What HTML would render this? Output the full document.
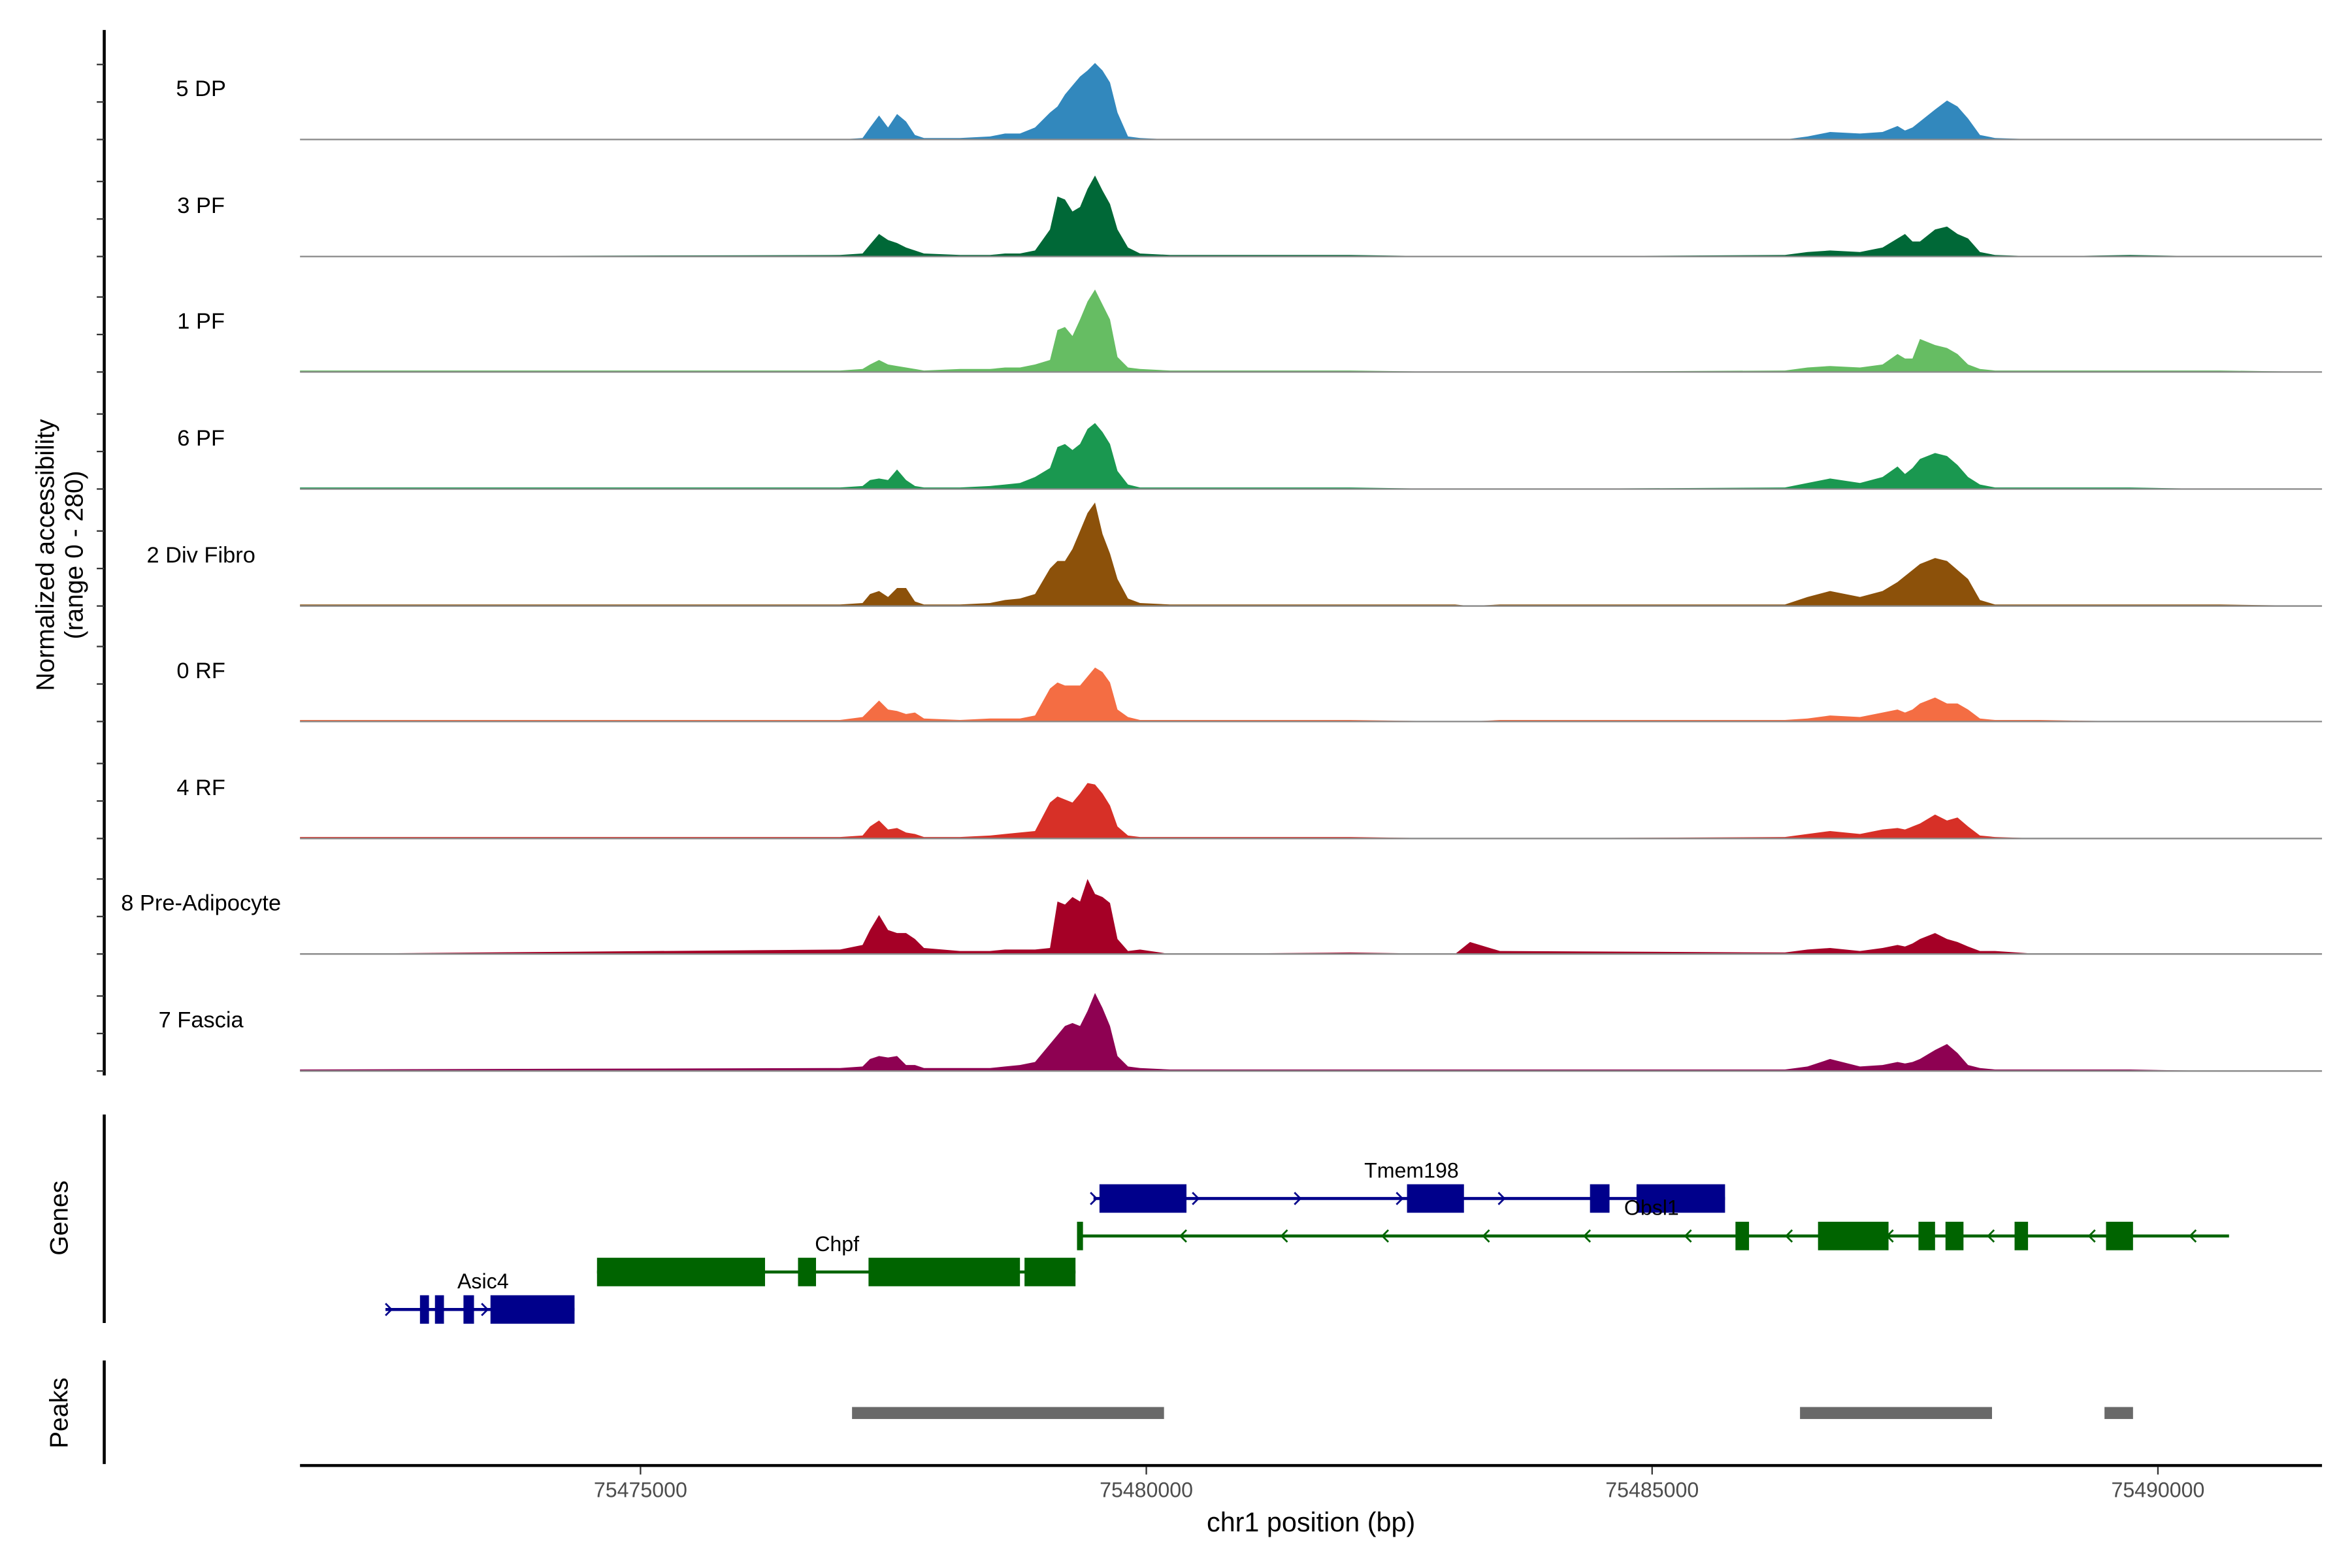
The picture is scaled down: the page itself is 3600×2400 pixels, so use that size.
<!DOCTYPE html>
<html><head><meta charset="utf-8">
<style>
html,body{margin:0;padding:0;background:#fff;}
svg{display:block;font-family:"Liberation Sans",Arial,sans-serif;}
</style></head>
<body>
<svg id="chart" width="3600" height="2400" viewBox="0 0 1568 1045.33" xmlns="http://www.w3.org/2000/svg">
<rect width="1568" height="1046" fill="#fff"/>
<g id="tracks"></g>
<g id="axes"></g>
<g id="genes"></g>
<g id="peaks"></g>
<text transform="translate(36,370) rotate(-90)" text-anchor="middle" font-size="17" fill="#000">Normalized accessibility</text>
<text transform="translate(55,370) rotate(-90)" text-anchor="middle" font-size="17" fill="#000">(range 0 - 280)</text>
<text transform="translate(45,812) rotate(-90)" text-anchor="middle" font-size="17" fill="#000">Genes</text>
<text transform="translate(45,942) rotate(-90)" text-anchor="middle" font-size="17" fill="#000">Peaks</text>
<text x="874" y="1021" text-anchor="middle" font-size="18" fill="#000">chr1 position (bp)</text>
</svg>
<script>
// ---- data ----
const positions = [75471634,75476972,75477195,75477269,75477358,75477447,75477536,75477625,75477713,75477802,75478158,75478455,75478603,75478751,75478900,75479048,75479122,75479196,75479270,75479345,75479419,75479493,75479567,75479641,75479715,75479819,75479938,75480234,75482014,75483052,75483200,75483496,75486313,75486536,75486759,75487055,75487278,75487426,75487500,75487574,75487648,75487797,75487915,75488019,75488123,75488241,75488390,75488834,75489724,75490614,75491622];
const trackNames = ["5 DP","3 PF","1 PF","6 PF","2 Div Fibro","0 RF","4 RF","8 Pre-Adipocyte","7 Fascia"];
const trackColors = ["#3288BD","#006837","#66BD63","#1A9850","#8C510A","#F46D43","#D73027","#A50026","#8E0152"];
const cov5DP = [0,0,1,8,16,8,17,12,3,1,1,2,4,4,8,18,22,30,36,42,46,51,46,38,18,2,1,0,0,0,0,0,0,2,5,4,5,9,6,8,12,20,26,22,14,3,1,0,0,0,0];
const cov3PF = [0,1,2,8,15,11,9,6,4,2,1,1,2,2,4,18,40,38,30,33,45,54,44,35,18,6,2,1,1,0,0,0,1,3,4,3,6,12,15,10,10,18,20,15,12,3,1,0,1,0,0];
const cov1PF = [1,1,2,5,8,5,4,3,2,1,2,2,3,3,5,8,28,30,24,35,47,55,45,35,10,3,2,1,1,0,0,0,1,3,4,3,5,12,9,9,22,18,16,12,5,2,1,1,1,1,0];
const cov6PF = [1,1,2,6,7,6,13,6,2,1,1,2,3,4,8,14,28,30,26,30,40,44,38,30,12,3,1,1,1,0,0,0,1,4,7,4,8,15,10,14,20,24,22,16,8,3,1,1,1,0,0];
const cov2DF = [1,1,2,8,10,6,12,12,3,1,1,2,4,5,8,25,30,30,38,50,62,69,48,35,18,5,2,1,1,1,0,1,1,6,10,6,10,16,20,24,28,32,30,24,18,4,1,1,1,1,0];
const cov0RF = [1,1,3,8,14,8,7,5,6,2,1,2,2,2,4,22,26,24,24,24,30,36,33,26,8,3,1,1,1,0,0,1,1,2,4,3,6,8,6,8,12,16,12,12,8,2,1,1,0,0,0];
const cov4RF = [1,1,2,8,12,6,7,4,3,1,1,2,3,4,5,24,28,26,24,30,37,36,30,22,8,2,1,1,1,0,0,0,1,3,5,3,6,7,6,8,10,16,12,14,8,2,1,0,0,0,0];
const cov8PA = [0,3,6,16,26,16,14,14,10,4,2,2,3,3,3,4,35,33,38,35,50,40,38,34,10,2,3,0,1,0,8,2,1,3,4,2,4,6,5,7,10,14,10,8,5,2,2,0,0,0,0];
const cov7FA = [1,2,3,8,10,9,10,4,4,2,2,2,3,4,6,18,24,30,32,30,40,52,42,30,10,3,2,1,1,1,1,1,1,3,8,3,4,6,5,6,8,14,18,12,4,2,1,1,1,0,0];
const coverage = [cov5DP,cov3PF,cov1PF,cov6PF,cov2DF,cov0RF,cov4RF,cov8PA,cov7FA];
const xTicks = [75475000,75480000,75485000,75490000];
// genes: [start, end] in bp
const tmemExons = [[75479537,75480397],[75482577,75483140],[75484386,75484579],[75484846,75485721]];
const obslExons = [[75479315,75479374],[75485824,75485958],[75486640,75487337],[75487633,75487797],[75487900,75488078],[75488583,75488716],[75489487,75489754]];
const chpfExons = [[75474570,75476231],[75476557,75476735],[75477254,75478751],[75478796,75479300]];
const asicExons = [[75472820,75472909],[75472968,75473057],[75473250,75473354],[75473517,75474348]];
const peakRanges = [[75477091,75480175],[75486462,75488360],[75489472,75489754]];

// ---- scales ----
const X0 = 200, X1 = 1548, D0 = 75471634, D1 = 75491622;
function xs(bp){ return X0 + (bp - D0) * (X1 - X0) / (D1 - D0); }
const baselines = [93,171,248,326,404,481,559,636,714];
const trackH = 77.6, yMaxVal = 77.6;
function ys(v, i){ return baselines[i] - v / yMaxVal * trackH; }
const NS = "http://www.w3.org/2000/svg";
function mk(tag, parent){ const e = document.createElementNS(NS, tag); parent.appendChild(e); return e; }

// ---- coverage tracks ----
const tg = document.getElementById('tracks');
coverage.forEach((vals, i) => {
  const g = mk('g', tg);
  
  
  let d = 'M' + xs(positions[0]) + ',' + baselines[i];
  positions.forEach((p, k) => { d += 'L' + xs(p).toFixed(2) + ',' + ys(vals[k], i).toFixed(2); });
  d += 'L' + xs(positions[positions.length-1]) + ',' + baselines[i] + 'Z';
  const a = mk('path', g);
  a.setAttribute('d', d); a.setAttribute('fill', trackColors[i]);
  
  
  const bl = mk('line', g);
  bl.setAttribute('x1', X0); bl.setAttribute('x2', X1);
  bl.setAttribute('y1', baselines[i]); bl.setAttribute('y2', baselines[i]);
  bl.setAttribute('stroke', '#888'); bl.setAttribute('stroke-width', '1');
  
  
  const t = mk('text', g);
  t.setAttribute('x', 134); t.setAttribute('y', baselines[i] - 29);
  t.setAttribute('text-anchor', 'middle'); t.setAttribute('font-size', '15'); t.setAttribute('fill', '#000');
  t.textContent = trackNames[i];
  
  
});

// ---- axes ----
const ag = document.getElementById('axes');
function line(p, x1, y1, x2, y2, c, w, name){
  const l = mk('line', p);
  l.setAttribute('x1', x1); l.setAttribute('y1', y1); l.setAttribute('x2', x2); l.setAttribute('y2', y2);
  l.setAttribute('stroke', c); l.setAttribute('stroke-width', w);
  
  
  return l;
}
line(ag, 69.5, 20, 69.5, 717, '#000', 2, 'y-axis-line');
baselines.forEach(b => { [0,25,50].forEach(o => line(ag, 64.5, b - o, 69.5, b - o, '#333', 1, 'y-axis-tick')); });
line(ag, 69.5, 743, 69.5, 882, '#000', 2, 'genes-axis-line');
line(ag, 69.5, 907, 69.5, 976, '#000', 2, 'peaks-axis-line');
line(ag, X0, 977, X1, 977, '#000', 2, 'x-axis-line');
xTicks.forEach(t => {
  line(ag, xs(t), 978, xs(t), 983, '#333', 1, 'x-axis-tick');
  const tx = mk('text', ag);
  tx.setAttribute('x', xs(t)); tx.setAttribute('y', 998);
  tx.setAttribute('text-anchor', 'middle'); tx.setAttribute('font-size', '14'); tx.setAttribute('fill', '#4d4d4d');
  tx.textContent = String(t);
  
  
});

// ---- genes ----
const gg = document.getElementById('genes');
function gene(name, color, yc, lineStart, lineEnd, exons, dir, arrowStart, arrowStep, label, lx, ly){
  const g = mk('g', gg);
  
  
  line(g, xs(lineStart), yc, xs(lineEnd), yc, color, 2, 'gene-intron');
  for (let p = arrowStart; p < lineEnd; p += arrowStep) {
    const x = xs(p), pl = mk('polyline', g);
    pl.setAttribute('points', dir > 0 ? (x-2)+','+(yc-4)+' '+(x+2)+','+yc+' '+(x-2)+','+(yc+4) : (x+2)+','+(yc-4)+' '+(x-2)+','+yc+' '+(x+2)+','+(yc+4));
    pl.setAttribute('fill', 'none'); pl.setAttribute('stroke', color); pl.setAttribute('stroke-width', '1.2');
    
    
  }
  exons.forEach(e => {
    const r = mk('rect', g);
    r.setAttribute('x', xs(e[0])); r.setAttribute('y', yc - 9.5);
    r.setAttribute('width', Math.max(xs(e[1]) - xs(e[0]), 1.5)); r.setAttribute('height', 19);
    r.setAttribute('fill', color);
    
    
  });
  const t = mk('text', g);
  t.setAttribute('x', lx); t.setAttribute('y', ly); t.setAttribute('text-anchor', 'middle');
  t.setAttribute('font-size', '14'); t.setAttribute('fill', '#000');
  t.textContent = label;
  
  
}
gene('Tmem198', '#00008B', 799, 75479478, 75485721, tmemExons, 1, 75479478, 1008, 'Tmem198', 941, 785);
gene('Chpf', '#006400', 848, 75474570, 75479300, chpfExons, -1, 75490000, 100000, 'Chpf', 558, 834);
gene('Obsl1', '#006400', 824, 75479315, 75490703, obslExons, -1, 75480367, 998, 'Obsl1', 1101, 810);
gene('Asic4', '#00008B', 873, 75472479, 75474348, asicExons, 1, 75472509, 950, 'Asic4', 322, 859);

// ---- peaks ----
const pg = document.getElementById('peaks');
peakRanges.forEach(p => {
  const r = mk('rect', pg);
  r.setAttribute('x', xs(p[0])); r.setAttribute('y', 938);
  r.setAttribute('width', xs(p[1]) - xs(p[0])); r.setAttribute('height', 8);
  r.setAttribute('fill', '#696969');
  
  
});
</script>
</body></html>
